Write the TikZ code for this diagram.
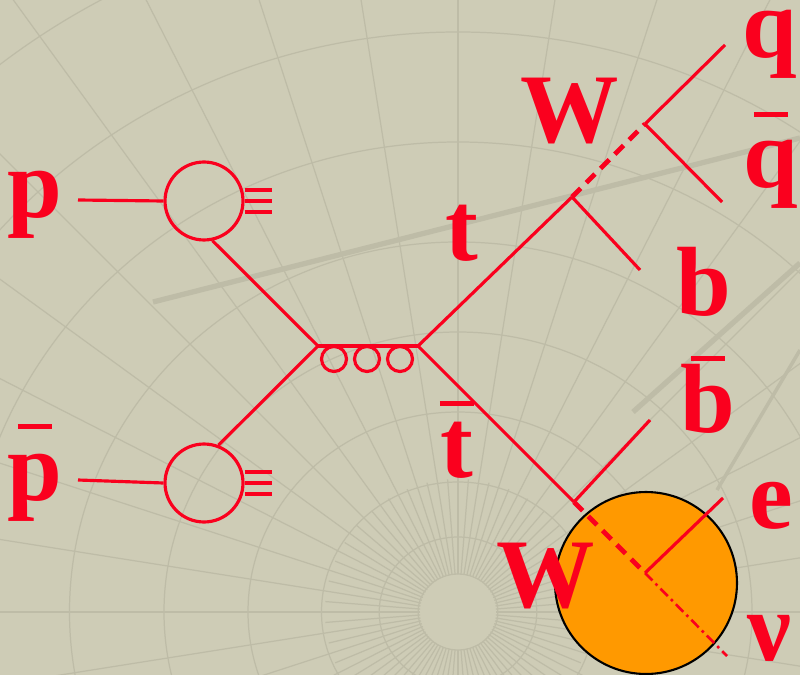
\documentclass[tikz,border=0pt]{standalone}
\usepackage{fontspec}
\setmainfont{Liberation Serif}

\definecolor{slide}{RGB}{206,204,182}
\definecolor{gridc}{RGB}{190,188,167}
\definecolor{ink}{RGB}{250,0,30}
\definecolor{blobfill}{RGB}{255,153,0}

% bar over a letter
\newcommand{\abar}[1]{\ooalign{#1\cr\hidewidth\rule[0.72em]{0.35em}{0.05em}\hidewidth\cr}}

\tikzset{
  particle/.style={ink, line width=1.8pt},
  wboson/.style={ink, line width=2.8pt, dash pattern=on 7pt off 4.5pt},
  neutrino/.style={ink, line width=1.5pt, dash pattern=on 6pt off 2.5pt on 1.5pt off 2.5pt},
  blob/.style={circle, draw=ink, line width=1.8pt, minimum size=1.56cm, inner sep=0pt},
  lbl/.style={text=ink, font=\fontsize{56}{60}\selectfont\bfseries, anchor=base, inner sep=0pt},
  gridline/.style={gridc, line width=0.7pt},
}

\begin{document}
\begin{tikzpicture}[x=0.02cm, y=-0.02cm]
  \useasboundingbox (0,0) rectangle (800,675);
  \fill[slide] (0,0) rectangle (800,675);

  % Background grid
  \begin{scope}
    \clip (0,0) rectangle (800,675);
    \foreach \r in {38,75,130,200,280,370,470,580,700}
      \draw[gridline] (458,612) ellipse ({\r*1.05} and \r);
    \foreach \a in {0,9,...,351}
      \draw[gridline] (458,612) ++(\a:38) -- ++(\a:900);
    \foreach \a in {4.5,13.5,...,355.5}
      \draw[gridline] (458,612) ++(\a:38) -- ++(\a:95);
    \draw[gridc, line width=3pt] (153,302) -- (800,138);
    \draw[gridc, line width=3pt] (633,412) -- (800,263);
    \draw[gridc, line width=2pt] (717,490) -- (800,350);
  \end{scope}

  % Highlight
  \fill[blobfill, draw=black, line width=1.2pt] (646,583) circle (1.82cm);

  % Nodes
  \node[lbl] (p) at (35,218) {p};
  \node[lbl] (pbar) at (35,500) {\abar{p}};
  \node[blob] (pp) at (204,201) {};
  \node[blob] (pb) at (204,483) {};
  \coordinate (pin) at (78,200);
  \coordinate (pbin) at (78,480);
  \coordinate (gl) at (318,346);
  \coordinate (gr) at (418,346);
  \coordinate (tv) at (572,197);
  \coordinate (wpv) at (645,124);
  \coordinate (qend) at (725,45);
  \coordinate (qbend) at (722,202);
  \coordinate (bend) at (640,270);
  \coordinate (tbv) at (574,502);
  \coordinate (bbend) at (650,420);
  \coordinate (wmv) at (645,573);
  \coordinate (eend) at (723,498);
  \coordinate (nuend) at (727,656);

  \node[lbl] (t) at (462,260) {t};
  \node[lbl] (tbar) at (457,477) {\abar{t}};
  \node[lbl] (wp) at (570,143) {W};
  \node[lbl] (q) at (770,58) {q};
  \node[lbl] (qbar) at (771,188) {\abar{q}};
  \node[lbl] (b) at (704,315) {b};
  \node[lbl] (bbar) at (708,432) {\abar{b}};
  \node[lbl] (wm) at (546,607) {W};
  \node[lbl] (e) at (771,528) {e};
  \node[lbl] (nu) at (769,660) {ν};

  % Edges
  \draw[particle] (pin) -- (pp.west);
  \draw[particle] (pbin) -- (pb.west);
  \foreach \dy in {-11,0,11} {
    \draw[particle] ([yshift=\dy*0.02cm]pp.east) -- ++(27,0);
    \draw[particle] ([yshift=\dy*0.02cm]pb.east) -- ++(27,0);
  }
  \draw[particle] (pp.-78) -- (gl);
  \draw[particle] (pb.69) -- (gl);
  % gluon
  \draw[particle] (gl) -- (gr);
  \foreach \x in {334,367,400}
    \draw[particle] (\x,359) circle (0.25cm);
  \draw[particle] (gr) -- (tv);
  \draw[particle] (gr) -- (tbv);
  \draw[particle] (tv) -- (bend);
  \draw[wboson] (tv) -- (wpv);
  \draw[particle] (wpv) -- (qend);
  \draw[particle] (wpv) -- (qbend);
  \draw[particle] (tbv) -- (bbend);
  \draw[wboson] (tbv) -- (wmv);
  \draw[particle] (wmv) -- (eend);
  \draw[neutrino] (wmv) -- (nuend);
\end{tikzpicture}
\end{document}
